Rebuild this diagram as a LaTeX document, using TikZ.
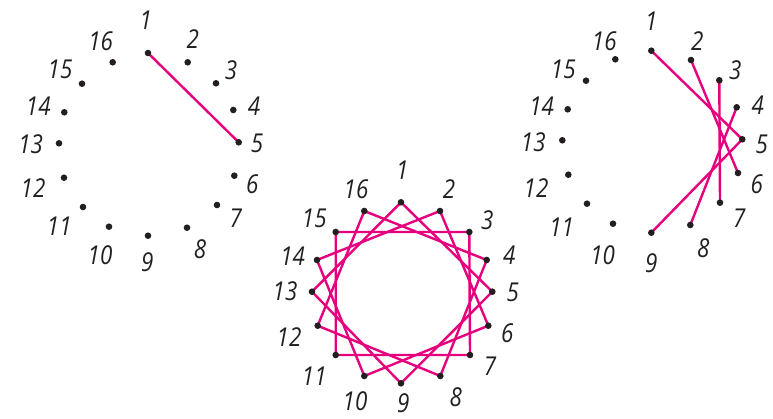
\documentclass[tikz,border=0pt]{standalone}
\usepackage{fontspec}
\newfontfamily\labfont[FakeStretch=0.86]{Open Sans}
\definecolor{strpink}{RGB}{230,0,126}
\definecolor{dotc}{RGB}{35,31,32}
\tikzset{
  stringline/.style={draw=strpink,line width=2.4pt,line cap=round,line join=round},
  lab/.style={font=\labfont\itshape\fontsize{26}{26}\selectfont,text=dotc,inner sep=0pt},
  dotfill/.style={fill=dotc}
}
\begin{document}
\begin{tikzpicture}[x=1pt,y=-1pt]
\useasboundingbox (0,0) rectangle (773,419);
% ---- left circle points
\foreach \i/\x/\y in {1/148/53,2/187.7/62.3,3/216/83.3,4/233.3/110,5/238.7/142.3,6/234.3/175.7,7/217/205,8/187/227.7,9/148/235.7,10/109/226.7,11/83/207,12/64/177.7,13/59/143.3,14/64.3/112.3,15/82/83.7,16/112.7/62.3}
  \coordinate (a\i) at (\x,\y);
% ---- middle circle points
\foreach \i/\x/\y in {1/401/202.3,2/440/211,3/469.3/232,4/486.7/260,5/492.3/291.7,6/488.3/325.7,7/470/355,8/440.3/376,9/401/383.3,10/364.3/376,11/335.7/355,12/317.7/325.7,13/312/291.7,14/317/260,15/335.7/232,16/364.3/211}
  \coordinate (b\i) at (\x,\y);
% ---- right circle points
\foreach \i/\x/\y in {1/651.3/50.7,2/691/60,3/719.3/80.3,4/736.7/107.3,5/742.3/139.3,6/738/173,7/720/202.7,8/690.3/225,9/651.3/232.7,10/613/223.7,11/587/203.7,12/568.3/174.7,13/562.3/140.3,14/567.7/109.3,15/586/80.7,16/615.3/59.3}
  \coordinate (c\i) at (\x,\y);

% ---- strings
\draw[stringline] (a1) -- (a5);
\draw[stringline] (b1) -- (b5) -- (b9) -- (b13) -- cycle;
\draw[stringline] (b2) -- (b6) -- (b10) -- (b14) -- cycle;
\draw[stringline] (b3) -- (b7) -- (b11) -- (b15) -- cycle;
\draw[stringline] (b4) -- (b8) -- (b12) -- (b16) -- cycle;
\draw[stringline] (c1) -- (c5);
\draw[stringline] (c2) -- (c6);
\draw[stringline] (c3) -- (c7);
\draw[stringline] (c4) -- (c8);
\draw[stringline] (c5) -- (c9);

% ---- dots
\foreach \p in {a,b,c}
  \foreach \i in {1,...,16}
    \fill[dotfill] (\p\i) circle (3.3pt);

% ---- labels
\foreach \i/\x/\y in {1/145.7/20.7,2/192.7/39.3,3/231/70,4/254/106,5/257/143.3,6/252.3/184.3,7/235.7/218.3,8/200/249.3,9/147.3/262.7,10/100/255,11/59.3/226.7,12/33/187.7,13/30.7/144,14/38.3/106.7,15/60/69.3,16/100.7/41}
  \node[lab] (la\i) at (\x,\y) {\i};
\foreach \i/\x/\y in {1/402.3/170.7,2/449/189.3,3/487.3/220,4/509.3/255,5/512.7/292.7,6/507.3/333.3,7/490/366.7,8/455.7/396.7,9/403.3/403.5,10/355/401.5,11/314.3/376.7,12/289/336.7,13/285/291.7,14/292.7/256.7,15/314.3/218.3,16/356/189.3}
  \node[lab] (lb\i) at (\x,\y) {\i};
\foreach \i/\x/\y in {1/651.3/21.7,2/697.3/40.7,3/735.3/70,4/757.7/105,5/761.7/144,6/756.7/184,7/739.3/218.3,8/703.3/248.3,9/651.3/263.3,10/602.7/255,11/561.7/227.7,12/536/188.3,13/533.3/142.7,14/541.7/106.7,15/563.3/69.3,16/604.3/41.7}
  \node[lab] (lc\i) at (\x,\y) {\i};
\end{tikzpicture}
\end{document}
